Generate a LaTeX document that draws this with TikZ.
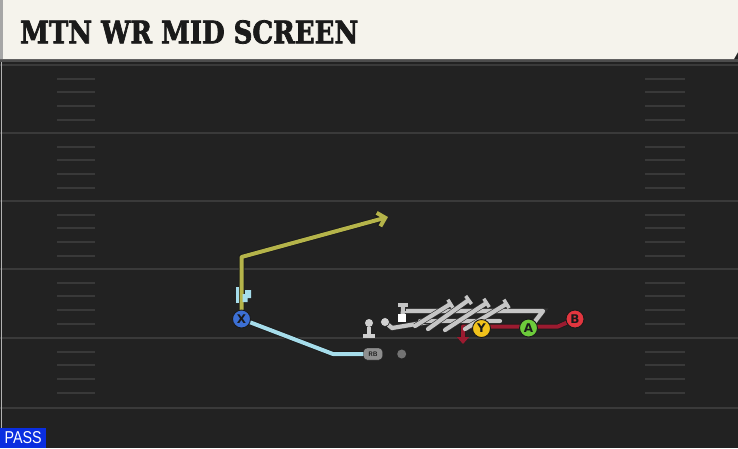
\documentclass[tikz,border=0pt]{standalone}
\usepackage{fontspec}
\setmainfont{DejaVu Sans}
\newfontfamily\titlefont{DejaVu Serif}[BoldFeatures={FakeBold=2.5}]
\newfontfamily\passfont{Liberation Sans}
\usetikzlibrary{arrows.meta}
\definecolor{cream}{HTML}{F5F3EC}
\definecolor{fieldbg}{HTML}{222222}
\definecolor{fieldline}{HTML}{3A3A3A}
\definecolor{hashc}{HTML}{393939}
\definecolor{yroutec}{HTML}{B5B44A}
\definecolor{broutec}{HTML}{A6DDEB}
\definecolor{rroutec}{HTML}{9B1B30}
\definecolor{xc}{HTML}{3C6FD4}
\definecolor{yc}{HTML}{F1C21B}
\definecolor{ac}{HTML}{6DCB3B}
\definecolor{bc}{HTML}{E2363F}
\definecolor{passc}{HTML}{0A2EE0}
\definecolor{olc}{HTML}{C6C6C6}
\definecolor{rbc}{HTML}{8E8E8E}
\definecolor{outl}{HTML}{1A1A1A}
\pgfdeclarelayer{bg}
\pgfdeclarelayer{routes}
\pgfsetlayers{bg,routes,main}
\tikzset{
  route/.style={line width=4pt, line join=round, line cap=round,
    preaction={draw=outl, line width=5.5pt}},
  oline/.style={draw=olc, line width=4.2pt, line join=round, line cap=round,
    preaction={draw=outl!90, line width=5.4pt}},
  player/.style={circle, draw=outl, line width=0.9pt, minimum size=18pt, inner sep=0pt,
    font=\bfseries\fontsize{12}{12}\selectfont, text=outl},
  hashmark/.style={draw=hashc, line width=1.6pt},
  yardline/.style={draw=fieldline, line width=2pt},
  blockbar/.style={-{Bar[width=10pt,line width=3.5pt]}}
}
\begin{document}
\begin{tikzpicture}[x=1pt,y=-1pt]
\useasboundingbox (0,0) rectangle (738,448);
\begin{pgfonlayer}{bg}
  \fill[fieldbg] (0,0) rectangle (738,448);
  \foreach \yy in {65,133,201,269,338,408} \draw[yardline] (0,\yy) -- (738,\yy);
  \foreach \t in {65,133,201,269,338} {
    \foreach \o in {14,27,41,55} {
      \draw[hashmark] (57,\t+\o) -- (95,\t+\o);
      \draw[hashmark] (645,\t+\o) -- (685,\t+\o);
    }
  }
  \fill[black!70] (0,59) rectangle (738,62);
  \fill[cream] (0,0) -- (738,0) -- (738,52) -- (734,59) -- (0,59) -- cycle;
  \fill[black!35] (0,0) rectangle (3,59);
  \draw[black!30, line width=1pt] (1,62) -- (1,448);
\end{pgfonlayer}

% title
\node[anchor=west, inner sep=0pt, text=outl] (title) at (20,32)
  {\resizebox{338pt}{23pt}{\titlefont\bfseries MTN WR MID SCREEN}};

% PASS tag
\node[fill=passc, anchor=south west, minimum width=46pt, minimum height=20pt, inner sep=0pt] (pass) at (0,448) {};
\node[text=white, inner sep=0pt] (passtxt) at (pass.center) {\resizebox{37pt}{12pt}{\passfont PASS}};

% players
\node[player, fill=xc] (X) at (241.5,319) {X};
\node[player, fill=yc] (Y) at (481.5,328.5) {Y};
\node[player, fill=ac] (A) at (528.5,328) {A};
\node[player, fill=bc] (B) at (575,319) {B};
\node[draw=outl, fill=rbc, rounded corners=3.5pt, minimum width=19pt, minimum height=12pt, inner sep=0pt,
  font=\sffamily\bfseries\fontsize{6.5}{6.5}\selectfont, text=outl] (RB) at (373,354) {RB};
\node[circle, fill=black!55, minimum size=9pt, inner sep=0pt] (rdot) at (401.7,354) {};
\node[circle, fill=olc!80, draw=outl, line width=0.6pt, minimum size=9pt, inner sep=0pt] (c1) at (385,322) {};
\node[fill=white, minimum size=8pt, inner sep=0pt] (sq) at (402,318) {};
\node[circle, fill=olc!85, minimum size=8pt, inner sep=0pt] (qbhead) at (369,323) {};
\coordinate (qbfoot) at (369,335);

\begin{pgfonlayer}{routes}
  % quarterback-like marker
  \draw[olc!85, line width=3.5pt] (qbhead) -- (qbfoot);
  \draw[olc!85, line width=3.5pt] (363,336) -- (375,336);
  % yellow route
  \coordinate (ycorner) at (241.5,257);
  \coordinate (yend) at (388,217);
  \draw[route, draw=yroutec, -{Straight Barb[length=7pt,width=14pt]}] (X) -- (ycorner) -- (yend);
  % light blue route
  \coordinate (bcorner) at (333,354);
  \draw[route, draw=broutec] (X) -- (bcorner) -- (RB);
  \draw[broutec, line width=3.5pt] (237.5,303) -- (237.5,287);
  \fill[broutec] (242.5,302) -- (242.5,294) -- (245,294) -- (245,290) -- (251,290) -- (251,298) -- (247.5,298) -- (247.5,302) -- cycle;
  % red route
  \coordinate (rc1) at (558,326.5);
  \coordinate (rc2) at (463,326.5);
  \coordinate (rend) at (463,344);
  \draw[route, draw=rroutec, -{Triangle[length=7pt,width=12pt]}] (B) -- (rc1) -- (rc2) -- (rend);
  % line blocking marks
  \draw[oline] (c1) -- (392,328) -- (440,320);
  \draw[oline] (sq) -- (403,311) -- (543,311) -- (533,324);
  \draw[oline, blockbar] (403,311) -- (403,303);
  \draw[oline] (420,321) -- (500,321);
  \draw[oline, blockbar] (415,326) -- (452,303);
  \draw[oline, blockbar] (428,329) -- (470,299);
  \draw[oline, blockbar] (445,330) -- (488,302);
  \draw[oline, blockbar] (465,329) -- (508,303);
\end{pgfonlayer}
\end{tikzpicture}
\end{document}
